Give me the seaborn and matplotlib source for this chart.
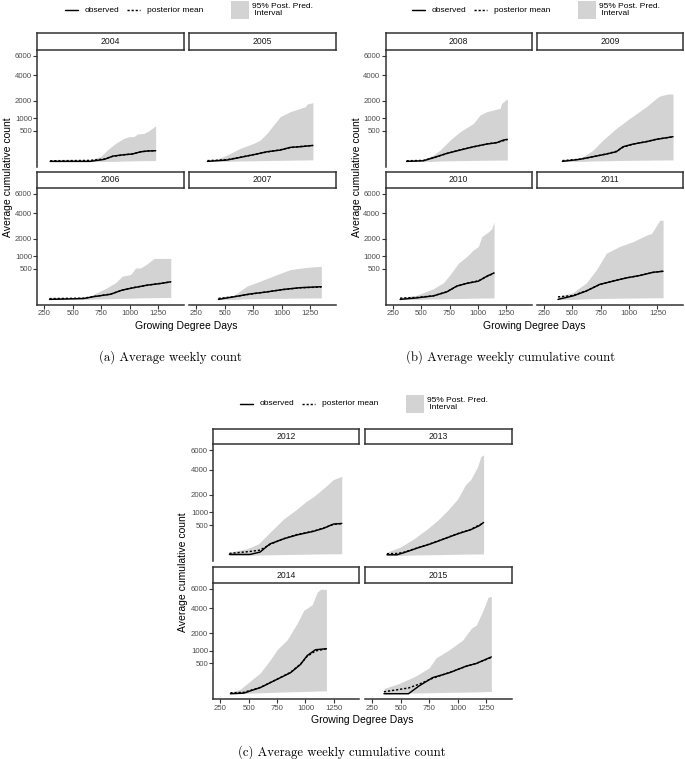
import numpy as np
import pandas as pd
import matplotlib
matplotlib.use("Agg")
import matplotlib.pyplot as plt
import seaborn as sns
from matplotlib.lines import Line2D
from matplotlib.patches import Rectangle

sns.set_theme(style="white")
plt.rcParams["font.family"] = ["Liberation Sans", "DejaVu Sans"]

# ---------------- data ----------------
X_TICKS = [250, 500, 750, 1000, 1250]
Y_TICKS = [500, 1000, 2000, 4000, 6000]
SERIES = ["observed", "posterior mean"]
BAND_LABEL = "95% Post. Pred.\n Interval"
X_LABEL = "Growing Degree Days"
Y_LABEL = "Average cumulative count"

# 2004
band_x_2004 = [300, 653, 741, 800, 874, 947, 991, 1035, 1065, 1124, 1168, 1226]
upper_2004 = [1, 2, 12, 69, 175, 286, 329, 330, 404, 424, 508, 688]
lower_2004 = [0, 0, 0, 0, 0, 0.1, 0.1, 0.2, 0.2, 0.3, 0.3, 0.4]
line_x_2004 = [300, 650, 776, 850, 947, 1021, 1094, 1153, 1226]
obs_2004 = [0, 0, 2.2, 15, 24, 29, 50, 58, 61.5]
mean_2004 = [0.2, 0.5, 3, 14, 23, 31, 48, 59, 62]

# 2005
band_x_2005 = [347, 429, 518, 635, 753, 812, 871, 929, 988, 1076, 1165, 1209, 1224, 1276]
upper_2005 = [1, 2.2, 21.7, 91, 175, 246, 424, 714, 1079, 1334, 1519, 1616, 1777, 1861]
lower_2005 = [0, 0, 0, 0.1, 0.2, 0.3, 0.4, 0.5, 0.6, 0.8, 1, 1.1, 1.2, 1.3]
line_x_2005 = [347, 518, 635, 753, 871, 988, 1076, 1165, 1276]
obs_2005 = [0, 1, 8.6, 24, 50, 69, 106, 116, 138]
mean_2005 = [0.3, 1.5, 9, 25, 48, 72, 102, 120, 135]

# 2006
band_x_2006 = [294, 624, 712, 800, 874, 932, 1006, 1050, 1094, 1153, 1212, 1359]
upper_2006 = [1, 2, 25, 74, 149, 290, 333, 532, 532, 687, 905, 905]
lower_2006 = [0, 0, 0.1, 0.2, 0.4, 0.6, 0.8, 1.0, 1.2, 1.4, 1.6, 2.0]
line_x_2006 = [294, 594, 682, 829, 932, 1035, 1153, 1271, 1359]
obs_2006 = [0, 0.4, 4, 14, 47, 74, 110, 137, 167]
mean_2006 = [0.3, 0.8, 4.5, 15, 45, 76, 108, 139, 165]

# 2007
band_x_2007 = [444, 576, 694, 812, 959, 1076, 1224, 1350]
upper_2007 = [2, 6.6, 95, 180, 333, 478, 555, 590]
lower_2007 = [0, 0, 0.2, 0.4, 0.6, 0.8, 1, 1.2]
line_x_2007 = [444, 576, 724, 871, 1018, 1165, 1350]
obs_2007 = [0, 3.4, 16, 30, 54, 74, 87]
mean_2007 = [0.5, 3.8, 15, 31, 52, 73, 82]

# 2008
band_x_2008 = [372, 520, 608, 667, 755, 843, 961, 1019, 1078, 1137, 1196, 1210, 1260]
upper_2008 = [1, 2.2, 21.7, 69, 246, 476, 781, 1161, 1334, 1425, 1519, 1819, 2123]
lower_2008 = [0, 0, 0, 0.1, 0.2, 0.3, 0.5, 0.6, 0.7, 0.8, 0.9, 0.9, 1]
line_x_2008 = [372, 520, 608, 726, 843, 961, 1078, 1166, 1225, 1260]
obs_2008 = [0, 0.2, 7.3, 34.6, 69, 116, 162, 188, 246, 262]
mean_2008 = [0.2, 0.5, 7, 33, 72, 113, 165, 192, 230, 258]

# 2009
band_x_2009 = [411, 505, 593, 681, 769, 887, 1005, 1152, 1240, 1270, 1343, 1387]
upper_2009 = [1, 1.5, 11.8, 69, 246, 589, 1000, 1616, 2146, 2308, 2451, 2451]
lower_2009 = [0, 0, 0, 0.1, 0.2, 0.4, 0.6, 0.8, 1, 1, 1.1, 1.2]
line_x_2009 = [411, 563, 681, 799, 887, 946, 1034, 1152, 1240, 1387]
obs_2009 = [0, 2.2, 11.8, 29, 50, 116, 162, 209, 262, 329]
mean_2009 = [0.3, 2.5, 12, 30, 55, 108, 160, 212, 265, 326]

# 2010
band_x_2010 = [314, 461, 608, 696, 755, 829, 902, 961, 1005, 1034, 1093, 1123, 1143]
upper_2010 = [2, 9.2, 62, 149, 333, 711, 994, 1319, 1516, 2124, 2463, 2710, 3244]
lower_2010 = [0, 0, 0.1, 0.2, 0.3, 0.4, 0.6, 0.8, 0.9, 1, 1.1, 1.2, 1.3]
line_x_2010 = [314, 461, 608, 725, 814, 902, 1005, 1078, 1143]
obs_2010 = [0, 1.2, 6.6, 30, 96, 138, 180, 289, 378]
mean_2010 = [0.8, 2, 7, 31, 92, 140, 185, 280, 370]

# 2011
band_x_2011 = [372, 505, 623, 711, 799, 917, 1034, 1152, 1196, 1225, 1270, 1299]
upper_2011 = [4, 25, 149, 477, 1152, 1516, 1800, 2226, 2341, 2710, 3378, 3378]
lower_2011 = [0, 0, 0.2, 0.4, 0.6, 0.8, 1, 1.2, 1.3, 1.4, 1.5, 1.5]
line_x_2011 = [372, 505, 623, 740, 858, 976, 1093, 1211, 1299]
obs_2011 = [0, 6.6, 38, 121, 180, 250, 307, 397, 426]
mean_2011 = [3.4, 8, 40, 118, 185, 248, 310, 392, 430]

# 2012
band_x_2012 = [329, 482, 585, 687, 805, 923, 1011, 1070, 1158, 1246, 1320]
upper_2012 = [5.9, 23.6, 72, 289, 713, 1155, 1604, 1867, 2428, 3116, 3393]
lower_2012 = [0, 0, 0.1, 0.2, 0.4, 0.6, 0.8, 1, 1.2, 1.4, 1.5]
line_x_2012 = [329, 511, 599, 687, 805, 923, 1070, 1158, 1246, 1320]
obs_2012 = [0.5, 0.5, 5.9, 72, 147, 226, 314, 396, 532, 554]
mean_2012 = [2, 8.5, 15, 65, 150, 235, 320, 405, 520, 550]

# 2013
band_x_2013 = [379, 496, 613, 731, 819, 907, 996, 1069, 1113, 1172, 1202, 1226]
upper_2013 = [5.9, 37, 147, 377, 650, 1074, 1703, 2723, 3116, 4231, 5302, 5480]
lower_2013 = [0, 0, 0.1, 0.2, 0.3, 0.5, 0.7, 0.9, 1, 1.1, 1.2, 1.3]
line_x_2013 = [379, 467, 526, 643, 761, 879, 996, 1113, 1187, 1226]
obs_2013 = [0.2, 0.2, 3.8, 28.5, 72, 147, 249, 358, 477, 589]
mean_2013 = [1.5, 2, 5, 30, 75, 150, 255, 365, 500, 560]

# 2014
band_x_2014 = [338, 426, 515, 603, 691, 750, 838, 926, 985, 1059, 1103, 1132, 1185]
upper_2014 = [0.5, 11.5, 90, 241, 637, 1058, 1584, 2698, 3800, 4326, 5625, 5957, 5957]
lower_2014 = [0, 0, 0.2, 0.5, 0.9, 1.3, 1.8, 2.3, 2.8, 3.3, 3.8, 4.2, 4.6]
line_x_2014 = [338, 456, 603, 750, 868, 956, 1015, 1088, 1185]
obs_2014 = [0, 0.2, 21, 114, 241, 467, 793, 1058, 1106]
mean_2014 = [0.5, 1, 22, 115, 250, 480, 760, 1000, 1100]

# 2015
band_x_2015 = [353, 485, 632, 750, 809, 926, 1044, 1118, 1162, 1221, 1250, 1265, 1294]
upper_2015 = [15, 57, 172, 368, 700, 1058, 1584, 2333, 2574, 3800, 4586, 5092, 5162]
lower_2015 = [0, 0.1, 0.3, 0.5, 0.7, 1, 1.3, 1.6, 1.8, 2.2, 2.5, 2.7, 2.9]
line_x_2015 = [353, 568, 662, 779, 926, 1074, 1162, 1294]
obs_2015 = [0, 0, 34, 141, 241, 416, 499, 739]
mean_2015 = [2, 18, 50, 130, 245, 410, 505, 720]

YEAR_DATA = {
    2004: (band_x_2004, lower_2004, upper_2004, line_x_2004, obs_2004, mean_2004),
    2005: (band_x_2005, lower_2005, upper_2005, line_x_2005, obs_2005, mean_2005),
    2006: (band_x_2006, lower_2006, upper_2006, line_x_2006, obs_2006, mean_2006),
    2007: (band_x_2007, lower_2007, upper_2007, line_x_2007, obs_2007, mean_2007),
    2008: (band_x_2008, lower_2008, upper_2008, line_x_2008, obs_2008, mean_2008),
    2009: (band_x_2009, lower_2009, upper_2009, line_x_2009, obs_2009, mean_2009),
    2010: (band_x_2010, lower_2010, upper_2010, line_x_2010, obs_2010, mean_2010),
    2011: (band_x_2011, lower_2011, upper_2011, line_x_2011, obs_2011, mean_2011),
    2012: (band_x_2012, lower_2012, upper_2012, line_x_2012, obs_2012, mean_2012),
    2013: (band_x_2013, lower_2013, upper_2013, line_x_2013, obs_2013, mean_2013),
    2014: (band_x_2014, lower_2014, upper_2014, line_x_2014, obs_2014, mean_2014),
    2015: (band_x_2015, lower_2015, upper_2015, line_x_2015, obs_2015, mean_2015),
}

# ---------------- layout (pixels) ----------------
W, H = 685, 759
BAND_COLOR = "#D3D3D3"
DARK = "#333333"
DASH = (1.5, 1.3)

PANELS = [
    dict(years=[2004, 2005, 2006, 2007], cols=[(37.3, 184), (189.3, 335.5)],
         rows=[(33, 50, 167), (172, 188, 305)], leg=(65, 10), ylab_x=8, xlab_y=326,
         caption="(a) Average weekly count", cap=(170, 357)),
    dict(years=[2008, 2009, 2010, 2011], cols=[(385.7, 531.7), (537, 683)],
         rows=[(33, 50, 167), (172, 188, 305)], leg=(412, 10), ylab_x=357, xlab_y=326,
         caption="(b) Average weekly cumulative count", cap=(511, 357)),
    dict(years=[2012, 2013, 2014, 2015], cols=[(213.3, 359.3), (365, 512)],
         rows=[(429, 444.3, 561), (567, 583, 699.3)], leg=(240, 404), ylab_x=183, xlab_y=720,
         caption="(c) Average weekly cumulative count", cap=(342, 752)),
]


def fx(px):
    return px / W


def fy(py):
    return 1 - py / H


def rect(x0, y0, x1, y1):
    return [x0 / W, 1 - y1 / H, (x1 - x0) / W, (y1 - y0) / H]


def fwd(y):
    y = np.asarray(y, dtype=float)
    return np.sign(y) * np.sqrt(np.abs(y))


def inv(y):
    y = np.asarray(y, dtype=float)
    return np.sign(y) * y ** 2


fig = plt.figure(figsize=(W / 100, H / 100), dpi=100)
fig.patch.set_facecolor("white")

for p in PANELS:
    for i, year in enumerate(p["years"]):
        r, c = divmod(i, 2)
        x0, x1 = p["cols"][c]
        st, at, ab = p["rows"][r]
        bx, lo, up, lx, ob, mn = YEAR_DATA[year]

        ax = fig.add_axes(rect(x0, at, x1, ab))
        ax.set_yscale("function", functions=(fwd, inv))
        ax.fill_between(bx, lo, up, color=BAND_COLOR, linewidth=0)
        n = len(lx)
        df = pd.DataFrame({"gdd": list(lx) * 2, "count": list(ob) + list(mn),
                           "series": [SERIES[0]] * n + [SERIES[1]] * n})
        sns.lineplot(data=df, x="gdd", y="count", style="series", style_order=SERIES,
                     dashes={SERIES[0]: "", SERIES[1]: DASH}, color="black",
                     linewidth=1.05, estimator=None, legend=False, ax=ax)
        ax.set_xlim(187, 1475)
        ax.set_ylim(-17, 6700)
        ax.set_xticks(X_TICKS)
        ax.set_xticklabels([str(v) for v in X_TICKS])
        ax.set_yticks(Y_TICKS)
        ax.set_yticklabels([str(v) for v in Y_TICKS])
        ax.set_xlabel("")
        ax.set_ylabel("")
        ax.set_facecolor("none")
        for s in ["top", "right"]:
            ax.spines[s].set_visible(False)
        ax.spines["left"].set_visible(c == 0)
        ax.spines["bottom"].set_visible(r == 1)
        for s in ["left", "bottom"]:
            ax.spines[s].set_color(DARK)
            ax.spines[s].set_linewidth(1.1)
        ax.tick_params(axis="both", length=2.6, width=0.8, color=DARK,
                       labelcolor="#4D4D4D", labelsize=5.6, pad=1.2)
        if c != 0:
            ax.tick_params(axis="y", left=False, labelleft=False)
        else:
            ax.tick_params(axis="y", left=True)
        if r == 0:
            ax.tick_params(axis="x", bottom=False, labelbottom=False)
        else:
            ax.tick_params(axis="x", bottom=True)

        sax = fig.add_axes(rect(x0, st, x1, at))
        sax.set_xticks([])
        sax.set_yticks([])
        sax.set_facecolor("white")
        for s in sax.spines.values():
            s.set_visible(True)
            s.set_color(DARK)
            s.set_linewidth(1.1)
        sax.text(0.5, 0.5, str(year), ha="center", va="center", fontsize=6.2,
                 color="#1A1A1A", transform=sax.transAxes)

    # axis titles
    cx = (p["cols"][0][0] + p["cols"][1][1]) / 2
    cy = (p["rows"][0][1] + p["rows"][1][2]) / 2
    fig.text(fx(cx), fy(p["xlab_y"]), X_LABEL, ha="center", va="center", fontsize=7.5, color="black")
    fig.text(fx(p["ylab_x"]), fy(cy), Y_LABEL, ha="center", va="center", rotation=90,
             fontsize=7.5, color="black")

    # legend
    L, Ly = p["leg"]
    fig.add_artist(Line2D([fx(L), fx(L + 13)], [fy(Ly), fy(Ly)], color="black", lw=1.05,
                          transform=fig.transFigure))
    fig.text(fx(L + 20), fy(Ly), SERIES[0], ha="left", va="center", fontsize=6, color="black")
    fig.add_artist(Line2D([fx(L + 62), fx(L + 75)], [fy(Ly), fy(Ly)], color="black", lw=1.05,
                          linestyle=(0, DASH), transform=fig.transFigure))
    fig.text(fx(L + 82), fy(Ly), SERIES[1], ha="left", va="center", fontsize=6, color="black")
    fig.add_artist(Rectangle((fx(L + 166), fy(Ly + 9)), 18 / W, 18 / H, facecolor=BAND_COLOR,
                             edgecolor="none", transform=fig.transFigure))
    fig.text(fx(L + 187), fy(Ly), BAND_LABEL, ha="left", va="center", fontsize=6,
             color="black", linespacing=1.1)

    # caption
    fig.text(fx(p["cap"][0]), fy(p["cap"][1]), p["caption"], ha="center", va="center",
             fontsize=9.2, family="cmr10", color="black")

fig.savefig("out.png", dpi=100, facecolor="white")
